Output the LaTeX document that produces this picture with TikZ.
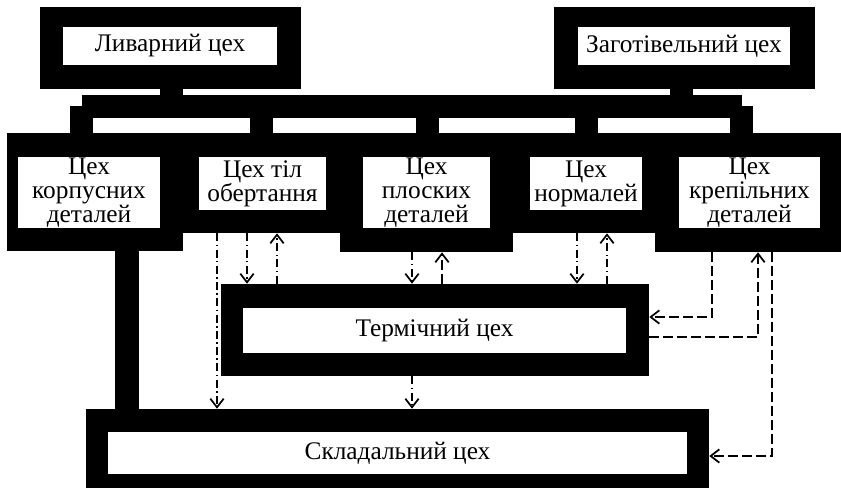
\documentclass[tikz,border=0pt]{standalone}
\usepackage{fontspec}
\setmainfont{Liberation Serif}
\usetikzlibrary{arrows.meta,calc}
\newcommand\shopfont{\fontsize{19}{18}\selectfont}
\begin{document}
\begin{tikzpicture}[x=0.75pt,y=-0.75pt,
  outerbox/.style n args={2}{fill=black, draw=none, inner sep=0pt,
    minimum width=#1*0.75pt, minimum height=#2*0.75pt},
  innerbox/.style n args={2}{fill=white, draw=none, inner sep=0pt,
    minimum width=#1*0.75pt, minimum height=#2*0.75pt,
    align=center, font=\shopfont, text=black},
  bar/.style={line width=17.25pt},
  feed/.style={line width=18pt},
  tip/.tip={Straight Barb[length=6.5pt,width=10pt,line width=1.3pt]},
  dd/.style={line width=1.15pt, dash pattern=on 6pt off 2.5pt on 1.2pt off 2.5pt, -tip},
  ds/.style={line width=1.15pt, dash pattern=on 7.5pt off 3pt, -tip},
]
\useasboundingbox (0,0) rectangle (841,488);

% column and row helpers
\foreach \n/\x in {c81/81.5,c127/127,c171/171.5,c217/217,c247/247,c261/261.5,
    c277/277,c412/412,c427/427.5,c442/442,c577/577,c586/586.5,c607/607,
    c681/681.5,c712/712,c741/741.5,c758/758,c772/772}
  \coordinate (\n) at (\x,0);
\foreach \n/\y in {r317/317,r337/337,r456/456}
  \coordinate (\n) at (0,\y);

% supplying shops
\node[outerbox={261}{82}] (lf_o) at (170.5,48) {};
\node[innerbox={214}{38}] (lf) at (170,46) {Ливарний цех};
\node[outerbox={261}{82}] (zg_o) at (684.5,48) {};
\node[innerbox={212}{38}] (zg) at (684,46) {Заготівельний цех};

% distribution bar
\coordinate (barL) at (82,106.5);
\coordinate (barR) at (742,106.5);
\draw[bar] (barL) -- (barR);
\draw[bar] (lf_o.south -| c171) -- (barL -| c171);
\draw[bar] (zg_o.south -| c681) -- (barL -| c681);

% production shops
\node[outerbox={173}{100}] (b2_o) at (262.5,183) {};
\node[innerbox={127}{53}] (b2) at (262.5,183.5) {Цех тіл\\обертання};
\node[outerbox={158}{100}] (b4_o) at (586,183) {};
\node[innerbox={112}{53}] (b4) at (586,183.5) {Цех\\нормалей};
\node[outerbox={176}{118}] (b1_o) at (95,192) {};
\node[innerbox={142}{71}] (b1) at (89,192.5) {Цех\\корпусних\\деталей};
\node[outerbox={173}{119}] (b3_o) at (426.5,192.5) {};
\node[innerbox={127}{71}] (b3) at (426.5,192.5) {Цех\\плоских\\деталей};
\node[outerbox={186}{119}] (b5_o) at (748,192.5) {};
\node[innerbox={141}{71}] (b5) at (749.5,192.5) {Цех\\крепільних\\деталей};

% legs from the bar
\draw[bar] (barL -| c81)  -- (b1_o.north -| c81);
\draw[bar] (barL -| c261) -- (b2_o.north -| c261);
\draw[bar] (barL -| c427) -- (b3_o.north -| c427);
\draw[bar] (barL -| c586) -- (b4_o.north -| c586);
\draw[bar] (barL -| c741) -- (b5_o.north -| c741);

% heat treatment and assembly
\node[outerbox={428}{92}] (th_o) at (435,330) {};
\node[innerbox={383}{45}] (th) at (434.5,330.5) {Термічний цех};
\node[outerbox={623}{79}] (as_o) at (397.5,448.5) {};
\node[innerbox={579}{42}] (as) at (397.5,453) {Складальний цех};

% main feed of housings
\draw[feed] (b1_o.south -| c127) -- (as_o.north -| c127);

% flows between shops
\draw[dd] (b2_o.south -| c217) -- (as_o.north -| c217);
\draw[dd] (b2_o.south -| c247) -- (th_o.north -| c247);
\draw[dd] (th_o.north -| c277) -- (b2_o.south -| c277);
\draw[dd] (b3_o.south -| c412) -- (th_o.north -| c412);
\draw[ds] (th_o.north -| c442) -- (b3_o.south -| c442);
\draw[dd] (b4_o.south -| c577) -- (th_o.north -| c577);
\draw[dd] (th_o.north -| c607) -- (b4_o.south -| c607);
\draw[dd] (th_o.south -| c412) -- (as_o.north -| c412);
\draw[ds] (b5_o.south -| c712) |- (th_o.east |- r317);
\draw[ds] (th_o.east |- r337) -| (b5_o.south -| c758);
\draw[ds] (b5_o.south -| c772) |- (as_o.east |- r456);
\end{tikzpicture}
\end{document}
